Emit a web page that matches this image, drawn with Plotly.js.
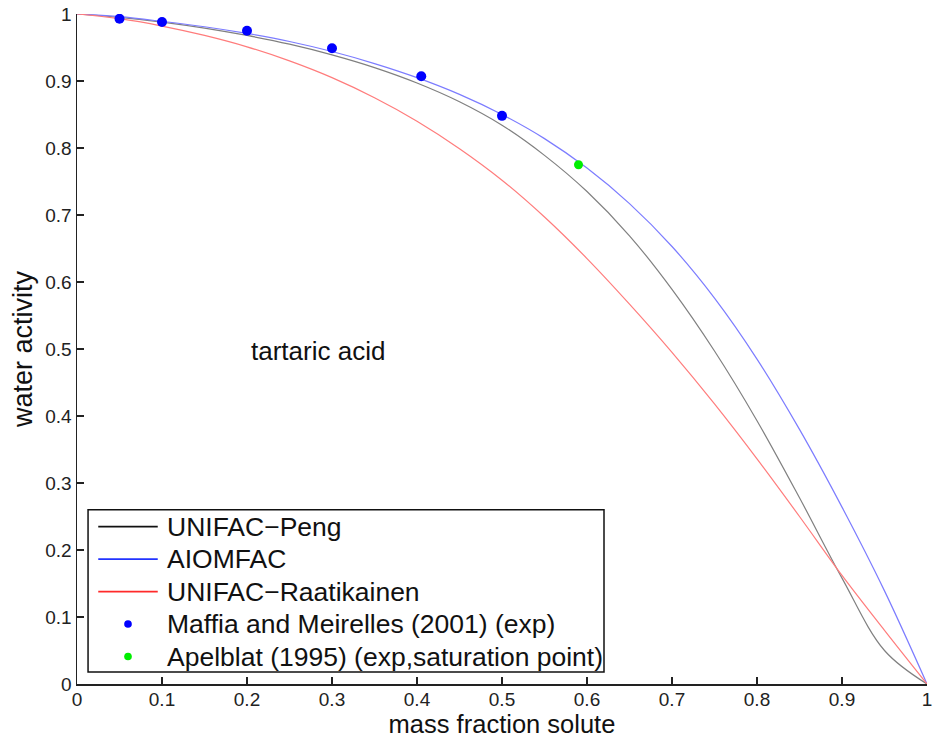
<!DOCTYPE html>
<html>
<head>
<meta charset="utf-8">
<script src="https://cdn.plot.ly/plotly-3.0.1.min.js"></script>
<style>
  html, body { margin: 0; padding: 0; background: #fff; }
  #chart { width: 933px; height: 738px; }
</style>
</head>
<body>
<div id="chart"></div>
<script>
// Mass fraction of solute (tartaric acid) where the model curves are evaluated
const massFraction = [0, 0.05, 0.1, 0.15, 0.2, 0.25, 0.3, 0.35, 0.4, 0.45, 0.5,
                      0.55, 0.6, 0.65, 0.7, 0.75, 0.8, 0.85, 0.9, 0.95, 1];

// Water activity predicted by each model
const awUnifacPeng = [1, 0.995, 0.988, 0.979, 0.968, 0.955, 0.939, 0.920, 0.897, 0.869, 0.834,
                      0.789, 0.735, 0.669, 0.589, 0.497, 0.393, 0.278, 0.158, 0.050, 0];
const awAiomfac = [1, 0.996, 0.989, 0.981, 0.971, 0.959, 0.944, 0.926, 0.905, 0.880, 0.850,
                   0.814, 0.770, 0.717, 0.653, 0.576, 0.485, 0.380, 0.264, 0.139, 0];
const awUnifacRaatikainen = [1, 0.993, 0.982, 0.968, 0.951, 0.930, 0.905, 0.875, 0.840, 0.799, 0.752,
                             0.697, 0.635, 0.567, 0.495, 0.418, 0.336, 0.250, 0.162, 0.080, 0];

// Measurements
const maffiaX = [0.05, 0.1, 0.2, 0.3, 0.405, 0.5];
const maffiaY = [0.993, 0.988, 0.975, 0.949, 0.907, 0.848];
const apelblatX = [0.59];
const apelblatY = [0.775];

const seriesNames = [
  'UNIFAC\u2212Peng',
  'AIOMFAC',
  'UNIFAC\u2212Raatikainen',
  'Maffia and Meirelles (2001) (exp)',
  'Apelblat (1995) (exp,saturation point)'
];

const baseFont = 'Liberation Sans, Arial, Helvetica, sans-serif';

// Key colours per series (solid), plus the lighter tone used for the thin curves
const keyColors = ['#111111', '#2233ff', '#ff2a2a', '#0000ff', '#00ee00'];
const curveColors = ['#808080', '#7c7cff', '#ff7c7c'];

function curve(y, i) {
  return {
    x: massFraction, y: y, name: seriesNames[i], type: 'scatter', mode: 'lines',
    line: { color: curveColors[i], width: 1.2, shape: 'spline', smoothing: 1 },
    hoverinfo: 'skip'
  };
}

const traces = [
  curve(awUnifacPeng, 0),
  curve(awAiomfac, 1),
  curve(awUnifacRaatikainen, 2),
  {
    x: maffiaX, y: maffiaY, name: seriesNames[3], type: 'scatter', mode: 'markers',
    marker: { color: keyColors[3], size: 10 }, hoverinfo: 'skip'
  },
  {
    x: apelblatX, y: apelblatY, name: seriesNames[4], type: 'scatter', mode: 'markers',
    marker: { color: keyColors[4], size: 9 }, hoverinfo: 'skip'
  }
];

// Boxed key in the lower-left corner of the axes (paper coordinates)
const key = { x0: 0.013, x1: 0.62, yTop: 0.26, yBottom: 0.018,
              firstRow: 0.235, rowStep: 0.0485,
              symX0: 0.025, symX1: 0.095, textX: 0.1035, dotR: 0.0045 };

const shapes = [{
  type: 'rect', xref: 'paper', yref: 'paper',
  x0: key.x0, x1: key.x1, y0: key.yBottom, y1: key.yTop,
  line: { color: '#111', width: 1.5 }, fillcolor: '#fff', layer: 'above'
}];
const annotations = [{
  x: 0.283, y: 0.497, xref: 'x', yref: 'y',
  text: 'tartaric acid', showarrow: false,
  font: { family: baseFont, size: 26, color: '#111' }
}];

seriesNames.forEach(function (name, i) {
  const yRow = key.firstRow - i * key.rowStep;
  if (i < 3) {
    shapes.push({
      type: 'line', xref: 'paper', yref: 'paper',
      x0: key.symX0, x1: key.symX1, y0: yRow, y1: yRow,
      line: { color: keyColors[i], width: 1.8 }, layer: 'above'
    });
  } else {
    const cx = (key.symX0 + key.symX1) / 2;
    const ry = key.dotR * 850 / 670;
    shapes.push({
      type: 'circle', xref: 'paper', yref: 'paper',
      x0: cx - key.dotR, x1: cx + key.dotR, y0: yRow - ry, y1: yRow + ry,
      line: { width: 0 }, fillcolor: keyColors[i], layer: 'above'
    });
  }
  annotations.push({
    x: key.textX, y: yRow, xref: 'paper', yref: 'paper',
    xanchor: 'left', yanchor: 'middle', showarrow: false,
    text: name, font: { family: baseFont, size: 26.5, color: '#111' }
  });
});

const axisCommon = {
  range: [0, 1], dtick: 0.1, tick0: 0,
  ticks: 'inside', ticklen: 7, tickwidth: 1.5, tickcolor: '#222',
  showline: true, linecolor: '#222', linewidth: 1.5,
  showgrid: false, zeroline: false, mirror: false,
  tickfont: { family: baseFont, size: 19, color: '#222' },
  fixedrange: true
};

const layout = {
  width: 933, height: 738,
  margin: { l: 77, r: 6, t: 14, b: 54 },
  paper_bgcolor: '#fff', plot_bgcolor: '#fff',
  showlegend: false,
  xaxis: Object.assign({}, axisCommon, {
    ticklabelstandoff: -2,
    title: { text: 'mass fraction solute', font: { family: baseFont, size: 25.5, color: '#111' }, standoff: 6 }
  }),
  yaxis: Object.assign({}, axisCommon, {
    title: { text: 'water activity', font: { family: baseFont, size: 27, color: '#111' }, standoff: 5 }
  }),
  shapes: shapes,
  annotations: annotations
};

Plotly.newPlot('chart', traces, layout, { displayModeBar: false, staticPlot: true });
</script>
</body>
</html>
